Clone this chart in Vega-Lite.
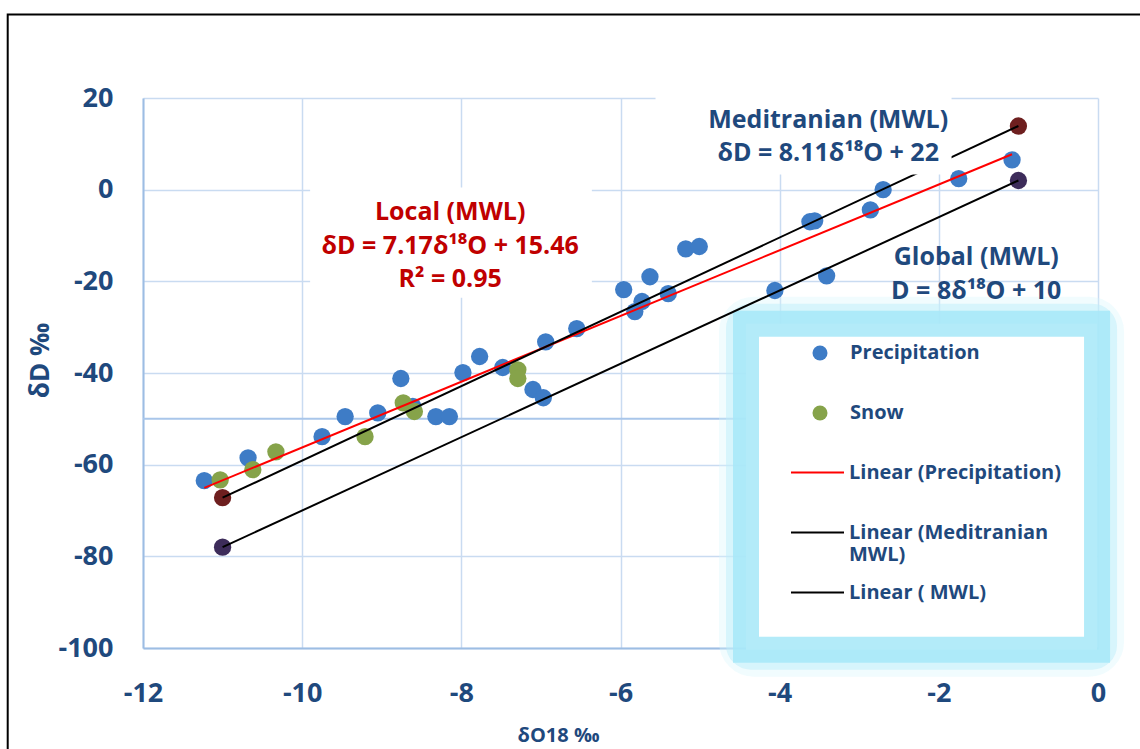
{
  "$schema": "https://vega.github.io/schema/vega-lite/v6.json",
  "width": 955,
  "height": 550,
  "autosize": {"type": "none"},
  "padding": {"left": 143, "top": 98, "right": 42, "bottom": 101},
  "background": "white",
  "config": {
    "font": "Open Sans",
    "view": {"stroke": null},
    "axis": {
      "labelFont": "Open Sans", "labelFontWeight": "bold", "labelFontSize": 27, "labelColor": "#1f497d",
      "titleFont": "Open Sans", "titleFontWeight": "bold", "titleColor": "#1f497d",
      "ticks": false, "tickSize": 0, "gridColor": "#c9dbf1", "gridWidth": 1.5,
      "domainColor": "#9dbde3", "domainWidth": 2, "labelFlush": false, "labelOverlap": false,
      "labelExpr": "'' + datum.value"
    },
    "axisX": {"tickCount": 6, "labelPadding": 32, "titleFontSize": 20, "titleX": 415, "titleY": 87, "titleBaseline": "middle", "titleAlign": "center"},
    "axisY": {"tickCount": 6, "labelPadding": 30, "titleFontSize": 26, "titleX": -103, "titleY": 262, "titleBaseline": "middle", "titleAlign": "center", "titleAngle": -90},
    "legend": {
      "labelFont": "Open Sans", "labelFontSize": 20, "labelFontWeight": "bold", "labelColor": "#1f497d",
      "labelLimit": 400, "padding": 0, "fillColor": null, "strokeColor": null
    }
  },
  "datasets": {
    "pts": [
      {"x": -11.23, "y": -63.5, "series": "Precipitation"},
      {"x": -10.68, "y": -58.5, "series": "Precipitation"},
      {"x": -9.75, "y": -53.9, "series": "Precipitation"},
      {"x": -9.46, "y": -49.5, "series": "Precipitation"},
      {"x": -9.05, "y": -48.7, "series": "Precipitation"},
      {"x": -8.76, "y": -41.2, "series": "Precipitation"},
      {"x": -8.61, "y": -47.3, "series": "Precipitation"},
      {"x": -8.32, "y": -49.5, "series": "Precipitation"},
      {"x": -8.15, "y": -49.5, "series": "Precipitation"},
      {"x": -7.98, "y": -39.9, "series": "Precipitation"},
      {"x": -7.77, "y": -36.4, "series": "Precipitation"},
      {"x": -7.48, "y": -38.8, "series": "Precipitation"},
      {"x": -7.1, "y": -43.6, "series": "Precipitation"},
      {"x": -6.97, "y": -45.4, "series": "Precipitation"},
      {"x": -6.94, "y": -33.2, "series": "Precipitation"},
      {"x": -6.55, "y": -30.3, "series": "Precipitation"},
      {"x": -5.96, "y": -21.8, "series": "Precipitation"},
      {"x": -5.82, "y": -26.6, "series": "Precipitation"},
      {"x": -5.73, "y": -24.4, "series": "Precipitation"},
      {"x": -5.63, "y": -19.0, "series": "Precipitation"},
      {"x": -5.4, "y": -22.7, "series": "Precipitation"},
      {"x": -5.18, "y": -12.9, "series": "Precipitation"},
      {"x": -5.01, "y": -12.4, "series": "Precipitation"},
      {"x": -4.06, "y": -22.0, "series": "Precipitation"},
      {"x": -3.62, "y": -7.0, "series": "Precipitation"},
      {"x": -3.56, "y": -6.8, "series": "Precipitation"},
      {"x": -3.41, "y": -18.8, "series": "Precipitation"},
      {"x": -2.86, "y": -4.4, "series": "Precipitation"},
      {"x": -2.7, "y": 0.0, "series": "Precipitation"},
      {"x": -1.75, "y": 2.4, "series": "Precipitation"},
      {"x": -1.08, "y": 6.5, "series": "Precipitation"},
      {"x": -11.03, "y": -63.3, "series": "Snow"},
      {"x": -10.62, "y": -61.1, "series": "Snow"},
      {"x": -10.33, "y": -57.2, "series": "Snow"},
      {"x": -9.21, "y": -53.9, "series": "Snow"},
      {"x": -8.73, "y": -46.5, "series": "Snow"},
      {"x": -8.59, "y": -48.4, "series": "Snow"},
      {"x": -7.29, "y": -39.3, "series": "Snow"},
      {"x": -7.29, "y": -41.2, "series": "Snow"}
    ],
    "lines": [
      {"series": "Linear (Precipitation)", "x": -11.23, "y": -65.06},
      {"series": "Linear (Precipitation)", "x": -1.08, "y": 7.72},
      {"series": "Linear (Meditranian MWL)", "x": -11, "y": -67.21},
      {"series": "Linear (Meditranian MWL)", "x": -1, "y": 13.89},
      {"series": "Linear ( MWL)", "x": -11, "y": -78},
      {"series": "Linear ( MWL)", "x": -1, "y": 2}
    ],
    "ends": [
      {"x": -11, "y": -67.21, "kind": "med"},
      {"x": -1, "y": 13.89, "kind": "med"},
      {"x": -11, "y": -78, "kind": "glob"},
      {"x": -1, "y": 2, "kind": "glob"}
    ],
    "boxes": [
      {"x": -9.9, "x2": -6.36, "y": 0.5, "y2": -23.6},
      {"x": -5.56, "x2": -1.84, "y": 22, "y2": 3.3}
    ],
    "legendbox": [
      {"x": -4.423, "x2": -0.012, "y": -29.24, "y2": -100.37}
    ],
    "frame": [
      {"x": -13.7, "x2": 0.7, "y": 38.2, "y2": -125}
    ],
    "notes": [
      {"text": "Local (MWL)", "x": -8.14, "y": -4.8, "grp": "local"},
      {"text": "δD = 7.17δ¹⁸O + 15.46", "x": -8.14, "y": -12.2, "grp": "local"},
      {"text": "R² = 0.95", "x": -8.14, "y": -19.4, "grp": "local"},
      {"text": "Meditranian (MWL)", "x": -3.39, "y": 15.3, "grp": "blue"},
      {"text": "δD = 8.11δ¹⁸O + 22", "x": -3.39, "y": 7.9, "grp": "blue"},
      {"text": "Global (MWL)", "x": -1.53, "y": -14.6, "grp": "blue"},
      {"text": "D = 8δ¹⁸O + 10", "x": -1.53, "y": -22.2, "grp": "blue"}
    ],
    "hline": [{"y": -50}]
  },
  "layer": [
    {
      "data": {"name": "frame"},
      "mark": {"type": "rect", "fill": null, "stroke": "#000000", "strokeWidth": 2, "clip": false},
      "encoding": {
        "x": {"field": "x", "type": "quantitative", "scale": {"domain": [-12, 0], "nice": false}, "title": "δO18 ‰"},
        "x2": {"field": "x2"},
        "y": {"field": "y", "type": "quantitative", "scale": {"domain": [-100, 20], "nice": false}, "title": "δD ‰"},
        "y2": {"field": "y2"}
      }
    },
    {
      "data": {"name": "hline"},
      "mark": {"type": "rule", "color": "#a9c6ea", "strokeWidth": 2},
      "encoding": {
        "y": {"field": "y", "type": "quantitative", "scale": {"domain": [-100, 20], "nice": false}, "title": "δD ‰"}
      }
    },
    {
      "data": {"name": "legendbox"},
      "mark": {"type": "rect", "fill": null, "stroke": "#d6f5fc", "strokeWidth": 54, "strokeOpacity": 0.35, "cornerRadius": 8, "clip": false},
      "encoding": {
        "x": {"field": "x", "type": "quantitative", "scale": {"domain": [-12, 0], "nice": false}, "title": "δO18 ‰"},
        "x2": {"field": "x2"},
        "y": {"field": "y", "type": "quantitative", "scale": {"domain": [-100, 20], "nice": false}, "title": "δD ‰"},
        "y2": {"field": "y2"}
      }
    },
    {
      "data": {"name": "legendbox"},
      "mark": {"type": "rect", "fill": null, "stroke": "#bdeefa", "strokeWidth": 40, "strokeOpacity": 0.5, "cornerRadius": 5, "clip": false},
      "encoding": {
        "x": {"field": "x", "type": "quantitative", "scale": {"domain": [-12, 0], "nice": false}, "title": "δO18 ‰"},
        "x2": {"field": "x2"},
        "y": {"field": "y", "type": "quantitative", "scale": {"domain": [-100, 20], "nice": false}, "title": "δD ‰"},
        "y2": {"field": "y2"}
      }
    },
    {
      "data": {"name": "legendbox"},
      "mark": {"type": "rect", "fill": "white", "stroke": "#a6e7f8", "strokeWidth": 26, "strokeOpacity": 0.85, "clip": false},
      "encoding": {
        "x": {"field": "x", "type": "quantitative", "scale": {"domain": [-12, 0], "nice": false}, "title": "δO18 ‰"},
        "x2": {"field": "x2"},
        "y": {"field": "y", "type": "quantitative", "scale": {"domain": [-100, 20], "nice": false}, "title": "δD ‰"},
        "y2": {"field": "y2"}
      }
    },
    {
      "data": {"name": "pts"},
      "mark": {"type": "point", "filled": true, "size": 300, "opacity": 1},
      "encoding": {
        "x": {"field": "x", "type": "quantitative", "scale": {"domain": [-12, 0], "nice": false}, "title": "δO18 ‰"},
        "y": {"field": "y", "type": "quantitative", "scale": {"domain": [-100, 20], "nice": false}, "title": "δD ‰"},
        "color": {
          "field": "series", "type": "nominal",
          "scale": {"domain": ["Precipitation", "Snow"], "range": ["#3e7cc6", "#86a34a"]},
          "legend": {
            "title": null,
            "orient": "none",
            "legendX": 667,
            "legendY": 245,
            "symbolSize": 225,
            "symbolType": "circle",
            "labelOffset": 20,
            "rowPadding": 40
          }
        }
      }
    },
    {
      "data": {"name": "ends"},
      "transform": [{"filter": "datum.kind == 'med'"}],
      "mark": {"type": "point", "filled": true, "size": 300, "opacity": 1, "color": "#6e1f1f"},
      "encoding": {
        "x": {"field": "x", "type": "quantitative", "scale": {"domain": [-12, 0], "nice": false}, "title": "δO18 ‰"},
        "y": {"field": "y", "type": "quantitative", "scale": {"domain": [-100, 20], "nice": false}, "title": "δD ‰"}
      }
    },
    {
      "data": {"name": "ends"},
      "transform": [{"filter": "datum.kind == 'glob'"}],
      "mark": {"type": "point", "filled": true, "size": 300, "opacity": 1, "color": "#3d2c5a"},
      "encoding": {
        "x": {"field": "x", "type": "quantitative", "scale": {"domain": [-12, 0], "nice": false}, "title": "δO18 ‰"},
        "y": {"field": "y", "type": "quantitative", "scale": {"domain": [-100, 20], "nice": false}, "title": "δD ‰"}
      }
    },
    {
      "data": {"name": "lines"},
      "mark": {"type": "line", "strokeWidth": 2},
      "encoding": {
        "x": {"field": "x", "type": "quantitative", "scale": {"domain": [-12, 0], "nice": false}, "title": "δO18 ‰"},
        "y": {"field": "y", "type": "quantitative", "scale": {"domain": [-100, 20], "nice": false}, "title": "δD ‰"},
        "stroke": {
          "field": "series", "type": "nominal",
          "scale": {
            "domain": ["Linear (Precipitation)", "Linear (Meditranian MWL)", "Linear ( MWL)"],
            "range": ["#ff0000", "#000000", "#000000"]
          },
          "legend": {
            "title": null,
            "orient": "none",
            "legendX": 647,
            "legendY": 347,
            "symbolType": "stroke",
            "symbolSize": 2809,
            "symbolStrokeWidth": 2,
            "labelOffset": 4,
            "rowPadding": -8,
            "gridAlign": "all",
            "labelExpr": "datum.label == 'Linear (Meditranian MWL)' ? ['Linear (Meditranian', 'MWL)'] : datum.label",
            "encode": {
              "labels": {"lineHeight": {"value": 28}}
            }
          }
        }
      }
    },
    {
      "data": {"name": "boxes"},
      "mark": {"type": "rect", "fill": "white", "clip": false},
      "encoding": {
        "x": {"field": "x", "type": "quantitative", "scale": {"domain": [-12, 0], "nice": false}, "title": "δO18 ‰"},
        "x2": {"field": "x2"},
        "y": {"field": "y", "type": "quantitative", "scale": {"domain": [-100, 20], "nice": false}, "title": "δD ‰"},
        "y2": {"field": "y2"}
      }
    },
    {
      "data": {"name": "notes"},
      "transform": [{"filter": "datum.grp == 'local'"}],
      "mark": {"type": "text", "font": "Open Sans", "fontWeight": "bold", "fontSize": 25, "color": "#c00000", "align": "center", "baseline": "middle"},
      "encoding": {
        "x": {"field": "x", "type": "quantitative", "scale": {"domain": [-12, 0], "nice": false}, "title": "δO18 ‰"},
        "y": {"field": "y", "type": "quantitative", "scale": {"domain": [-100, 20], "nice": false}, "title": "δD ‰"},
        "text": {"field": "text"}
      }
    },
    {
      "data": {"name": "notes"},
      "transform": [{"filter": "datum.grp == 'blue'"}],
      "mark": {"type": "text", "font": "Open Sans", "fontWeight": "bold", "fontSize": 25, "color": "#1f497d", "align": "center", "baseline": "middle"},
      "encoding": {
        "x": {"field": "x", "type": "quantitative", "scale": {"domain": [-12, 0], "nice": false}, "title": "δO18 ‰"},
        "y": {"field": "y", "type": "quantitative", "scale": {"domain": [-100, 20], "nice": false}, "title": "δD ‰"},
        "text": {"field": "text"}
      }
    }
  ]
}
